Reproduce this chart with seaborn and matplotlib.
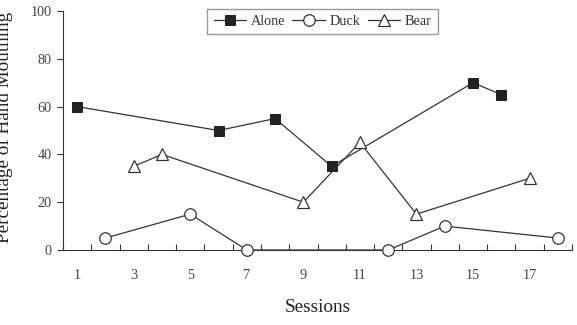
import matplotlib
matplotlib.use("Agg")
import matplotlib.pyplot as plt
import seaborn as sns
import pandas as pd
import numpy as np

alone_sessions = [1, 6, 8, 10, 15, 16]
alone_values = [60, 50, 55, 35, 70, 65]
duck_sessions = [2, 5, 7, 12, 14, 18]
duck_values = [5, 15, 0, 0, 10, 5]
bear_sessions = [3, 4, 9, 11, 13, 17]
bear_values = [35, 40, 20, 45, 15, 30]
x_tick_labels = [1, 3, 5, 7, 9, 11, 13, 15, 17]
y_ticks = [0, 20, 40, 60, 80, 100]

sns.set_style("white")
plt.rcParams['font.family'] = ['Liberation Serif', 'DejaVu Serif']

fig = plt.figure(figsize=(5.77, 3.25), dpi=100)
ax = fig.add_axes([63/577, 75/325, (572-63)/577, (250-11)/325])

line_col = "#333333"
series = [
    ("Alone", alone_sessions, alone_values, dict(marker="s", markersize=6.5, markerfacecolor="#222222", markeredgecolor="#222222")),
    ("Duck", duck_sessions, duck_values, dict(marker="o", markersize=8.3, markerfacecolor="white", markeredgecolor=line_col, markeredgewidth=0.9)),
    ("Bear", bear_sessions, bear_values, dict(marker="^", markersize=8.3, markerfacecolor="white", markeredgecolor=line_col, markeredgewidth=0.9)),
]
for name, xs, ys, kw in series:
    df = pd.DataFrame({"Sessions": xs, "Value": ys})
    sns.lineplot(data=df, x="Sessions", y="Value", ax=ax, color=line_col,
                 linewidth=0.9, label=name, clip_on=False, zorder=3, **kw)

ax.set_xlim(0.5, 18.5)
ax.set_ylim(0, 100)
ax.set_xticks(np.arange(0.5, 19, 1.0))
ax.set_xticklabels([])
ax.set_xticks(x_tick_labels, minor=True)
ax.set_xticklabels([str(v) for v in x_tick_labels], minor=True)
ax.tick_params(axis="x", which="major", direction="in", length=4, width=0.8, color=line_col, bottom=True)
ax.tick_params(axis="x", which="minor", length=0, pad=14, labelsize=10.3, labelcolor="#444444")
ax.set_yticks(y_ticks)
ax.set_yticklabels([str(v) for v in y_ticks])
ax.tick_params(axis="y", direction="out", length=4, width=0.8, color=line_col, left=True, pad=4,
               labelsize=10.3, labelcolor="#444444")

for s in ["top", "right"]:
    ax.spines[s].set_visible(False)
for s in ["left", "bottom"]:
    ax.spines[s].set_color(line_col)
    ax.spines[s].set_linewidth(0.8)

ax.set_xlabel("")
ax.set_ylabel("")
fig.text(318/577, 1 - 307/325, "Sessions", ha="center", va="center", fontsize=13.8, color="#222222")
fig.text(4/577, 1 - 127/325, "Percentage of Hand Mouthing", ha="center", va="center",
         rotation=90, fontsize=13.8, color="#222222")

leg = ax.legend(loc="upper center", bbox_to_anchor=(0.51, 1.01), ncol=3, frameon=True, fancybox=False,
                fontsize=10.3, handlelength=2.3, handletextpad=0.3, columnspacing=0.5,
                borderpad=0.45, borderaxespad=0)
leg.get_frame().set_edgecolor("#808080")
leg.get_frame().set_linewidth(1.0)
for t in leg.get_texts():
    t.set_color("#333333")

fig.savefig("out.png", dpi=100)
